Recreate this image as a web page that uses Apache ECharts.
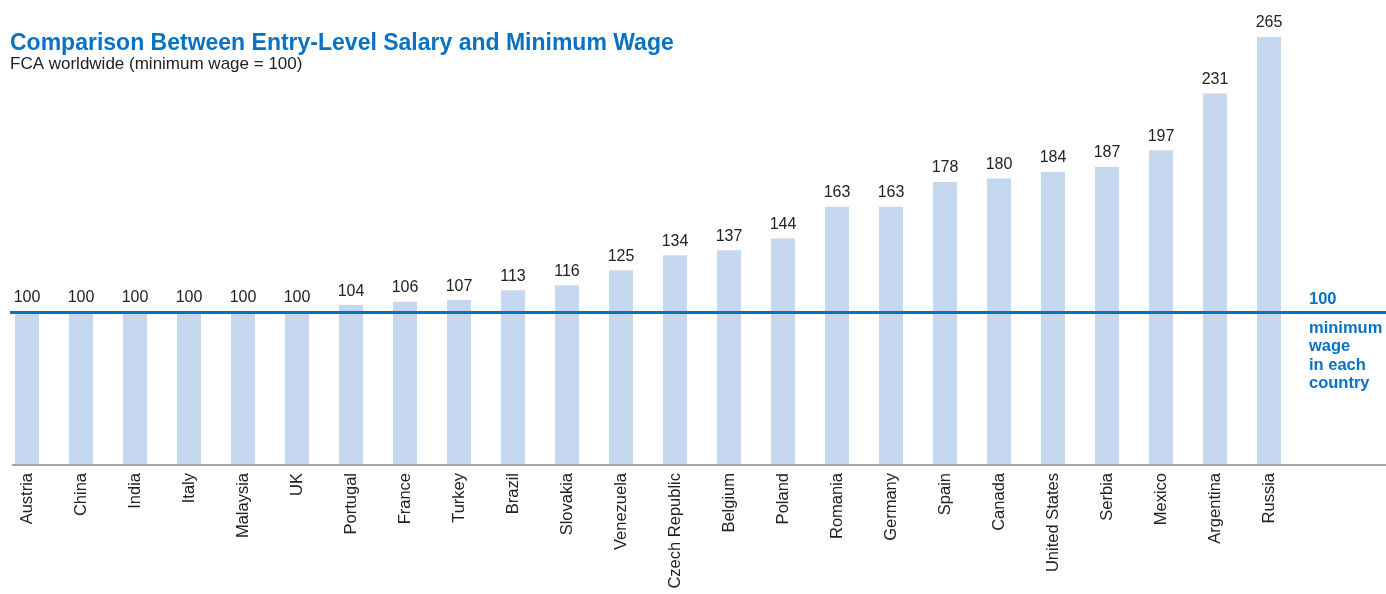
<!DOCTYPE html>
<html>
<head>
<meta charset="utf-8">
<script src="https://cdn.jsdelivr.net/npm/echarts@6/dist/echarts.min.js"></script>
<style>
  html, body { margin: 0; padding: 0; background: #fff; }
  #chart { width: 1386px; height: 594px; }
</style>
</head>
<body>
<div id="chart"></div>
<script>
/* ---------------------------------------------------------------- */
/*       Comparison Between Entry-Level Salary and Minimum Wage     */
/* ---------------------------------------------------------------- */

var countries = ['Austria', 'China', 'India', 'Italy', 'Malaysia', 'UK', 'Portugal', 'France',
  'Turkey', 'Brazil', 'Slovakia', 'Venezuela', 'Czech Republic', 'Belgium', 'Poland', 'Romania',
  'Germany', 'Spain', 'Canada', 'United States', 'Serbia', 'Mexico', 'Argentina', 'Russia'];
var salaryIndex = [100, 100, 100, 100, 100, 100, 104, 106, 107, 113, 116, 125, 134, 137, 144, 163,
  163, 178, 180, 184, 187, 197, 231, 265];
var minimumWage = 100;
var annotationLines = ['minimum', 'wage', 'in each', 'country'];

var font = "'Liberation Sans', Arial, Helvetica, sans-serif";
var blue = '#0a72c2';
var axisMin = 8;

var chart = echarts.init(document.getElementById('chart'));

var option = {
  backgroundColor: '#fff',
  animation: false,
  title: [
    {
      text: 'Comparison Between Entry-Level Salary and Minimum Wage',
      left: 5,
      top: 27,
      textStyle: { fontFamily: font, fontSize: 23, fontWeight: 'bold', color: blue }
    },
    {
      text: 'FCA worldwide (minimum wage = 100)',
      left: 5,
      top: 51,
      textStyle: { fontFamily: font, fontSize: 17, fontWeight: 'normal', color: '#222' }
    }
  ],
  grid: { left: -3, right: 90, top: 12, bottom: 129, containLabel: false },
  xAxis: {
    type: 'category',
    data: countries,
    axisLine: { show: false },
    axisTick: { show: false },
    axisLabel: {
      interval: 0,
      rotate: 90,
      margin: 8,
      fontFamily: font,
      fontSize: 16.5,
      color: '#222'
    }
  },
  yAxis: {
    type: 'value',
    min: axisMin,
    max: 280,
    show: false,
    splitLine: { show: false }
  },
  graphic: [
    {
      type: 'text',
      left: 1309,
      top: 291,
      style: { text: String(minimumWage), fill: blue, font: 'bold 16.5px ' + font }
    },
    {
      type: 'text',
      left: 1309,
      top: 319,
      style: {
        text: annotationLines.join('\n'),
        fill: blue,
        font: 'bold 16.5px ' + font,
        lineHeight: 18.5
      }
    }
  ],
  series: [
    {
      type: 'bar',
      data: salaryIndex,
      barWidth: 24,
      clip: true,
      itemStyle: { color: '#c6d7f0' },
      label: {
        show: true,
        position: 'top',
        distance: 6,
        fontFamily: font,
        fontSize: 16,
        color: '#222'
      }
    },
    {
      // reference lines: minimum wage level and the baseline
      type: 'line',
      data: [],
      clip: false,
      silent: true,
      markLine: {
        silent: true,
        symbol: 'none',
        label: { show: false },
        data: [
          [
            { x: 10, yAxis: minimumWage, lineStyle: { color: blue, width: 3, type: 'solid' } },
            { x: 1386, yAxis: minimumWage }
          ],
          [
            { x: 12, yAxis: axisMin, lineStyle: { color: '#a7a7a7', width: 2, type: 'solid' } },
            { x: 1386, yAxis: axisMin }
          ]
        ]
      }
    }
  ]
};

chart.setOption(option);
</script>
</body>
</html>
